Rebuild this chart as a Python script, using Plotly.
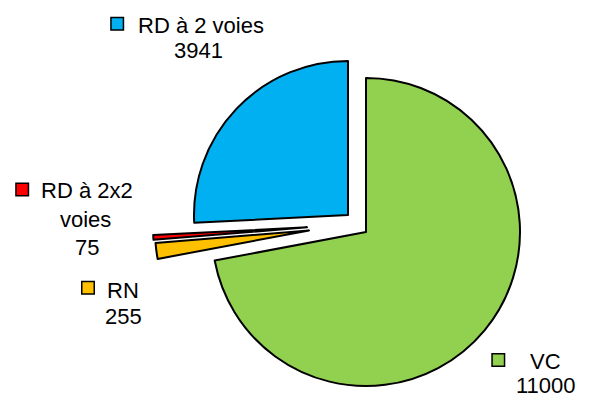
import plotly.graph_objects as go

# ---- data ----
categories = ["VC", "RN", "RD à 2x2 voies", "RD à 2 voies"]
values = [11000, 255, 75, 3941]
colors = ["#92D050", "#FFC000", "#FF0000", "#00B0F0"]
label_lines = [["VC"], ["RN"], ["RD à 2x2", "voies"], ["RD à 2 voies"]]

# ---- layout geometry (window pixels) ----
WIN_W, WIN_H = 590, 401
PAGE_MARGIN = 8          # default body margin of the html page
W, H = WIN_W - PAGE_MARGIN, WIN_H - PAGE_MARGIN
R = 154
# centre (apex) of each exploded slice
apex = [(366, 232), (309, 230.4), (307, 227.3), (348, 215)]
# text lines: (x centre, baseline) for each line of label + value
text_pos = [
    [(545.8, 369.3), (546.3, 393.3)],
    [(122.5, 297.7), (123.3, 324.3)],
    [(86.7, 197.7), (85.8, 227.3), (86.7, 255.5)],
    [(200.5, 32.7), (198.8, 58.3)],
]
square_pos = [(498.3, 360.0), (88.0, 287.8), (22.2, 189.5), (117.2, 23.8)]
SQ = 12.5
FONT = "Liberation Sans, Arial, sans-serif"
FS = 22

def px(x):
    return (x - PAGE_MARGIN) / W

def py(y):
    return 1 - (y - PAGE_MARGIN) / H

fig = go.Figure()
TRANSPARENT = "rgba(0,0,0,0)"
for i, cat in enumerate(categories):
    ax, ay = apex[i]
    fig.add_trace(go.Pie(
        labels=categories,
        values=values,
        sort=False,
        direction="clockwise",
        rotation=0,
        marker=dict(
            colors=[colors[j] if j == i else TRANSPARENT for j in range(len(categories))],
            line=dict(color="black",
                      width=[2 if j == i else 0 for j in range(len(categories))]),
        ),
        textinfo="none",
        hoverinfo="skip",
        showlegend=False,
        domain=dict(x=[px(ax - R), px(ax + R)], y=[py(ay + R), py(ay - R)]),
    ))

annotations = []
shapes = []
for i, cat in enumerate(categories):
    lines = label_lines[i] + [str(values[i])]
    for txt, (x, base) in zip(lines, text_pos[i]):
        annotations.append(dict(
            x=px(x), y=py(base - 7.7), xref="paper", yref="paper",
            text=txt, showarrow=False, xanchor="center", yanchor="middle",
            font=dict(family=FONT, size=FS, color="black"),
        ))
    sx, sy = square_pos[i]
    shapes.append(dict(
        type="rect", xref="paper", yref="paper",
        x0=px(sx - SQ / 2), x1=px(sx + SQ / 2),
        y0=py(sy + SQ / 2), y1=py(sy - SQ / 2),
        fillcolor=colors[i], line=dict(color="black", width=1.5),
    ))

fig.update_layout(
    width=W, height=H,
    margin=dict(l=0, r=0, t=0, b=0),
    paper_bgcolor="white",
    plot_bgcolor="white",
    annotations=annotations,
    shapes=shapes,
)

fig.write_html("out.html")
